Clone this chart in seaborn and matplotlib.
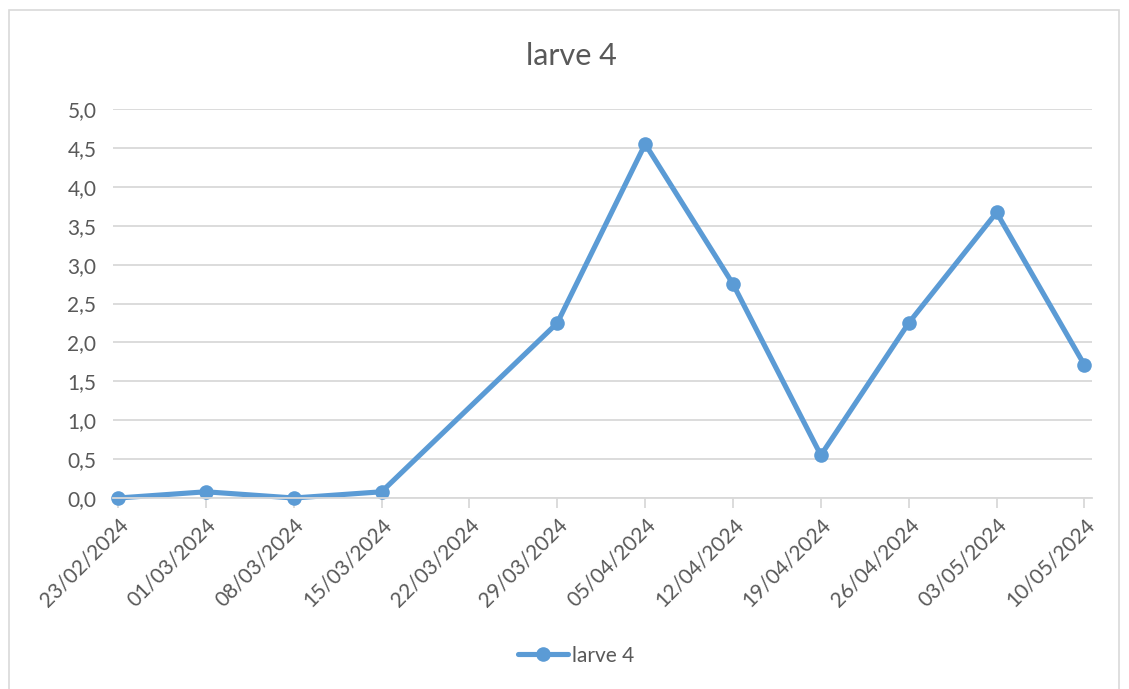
import pandas as pd
import numpy as np
import matplotlib
matplotlib.use("Agg")
import matplotlib.pyplot as plt
from matplotlib.ticker import FuncFormatter, MultipleLocator
from matplotlib.patches import Rectangle
import seaborn as sns

# data
dates = ['23/02/2024', '01/03/2024', '08/03/2024', '15/03/2024', '22/03/2024', '29/03/2024',
         '05/04/2024', '12/04/2024', '19/04/2024', '26/04/2024', '03/05/2024', '10/05/2024']
larve4 = [0.0, 0.08, 0.0, 0.08, np.nan, 2.25, 4.55, 2.75, 0.55, 2.25, 3.67, 1.71]
series_name = 'larve 4'

df = pd.DataFrame({'date': pd.to_datetime(dates, format='%d/%m/%Y'), series_name: larve4})

sns.set_theme(style='white')
plt.rcParams['font.family'] = ['Lato', 'DejaVu Sans']
txt = '#595959'
grid = '#d9d9d9'
blue = '#5b9bd5'

fig = plt.figure(figsize=(11.29, 6.89), dpi=100)
ax = fig.add_axes([0.1001, 0.2772, 0.8671, 0.5646])

# light chart-area border
fig.patches.append(Rectangle((0.008, -0.01), 0.983, 0.995, transform=fig.transFigure,
                             fill=False, edgecolor=grid, linewidth=1.2))

sns.lineplot(data=df.dropna(), x='date', y=series_name, ax=ax, color=blue, linewidth=3.7,
             marker='o', markersize=10.5, markeredgewidth=0, clip_on=False, label=series_name)

ax.set_ylim(0, 5)
ax.yaxis.set_major_locator(MultipleLocator(0.5))
ax.yaxis.set_major_formatter(FuncFormatter(lambda v, p: f'{v:.1f}'.replace('.', ',')))
ax.grid(axis='y', color=grid, linewidth=1.3)
ax.set_axisbelow(True)

ax.set_xticks(df['date'])
ax.set_xticklabels(dates, rotation=45, ha='right', rotation_mode='anchor')
ax.set_xlim(df['date'].iloc[0] - pd.Timedelta(days=0.4), df['date'].iloc[-1] + pd.Timedelta(days=0.6))

for s in ['top', 'right', 'left']:
    ax.spines[s].set_visible(False)
ax.spines['bottom'].set_color(grid)
ax.spines['bottom'].set_linewidth(1.3)
ax.tick_params(axis='x', length=7, width=1.3, color=grid, labelsize=15, labelcolor=txt, pad=5, bottom=True)
ax.tick_params(axis='y', length=0, labelsize=15, labelcolor=txt, pad=12)
ax.set_xlabel('')
ax.set_ylabel('')

fig.text(0.506, 0.918, 'larve 4', ha='center', va='center', fontsize=22, color=txt)

leg = ax.legend(loc='center', bbox_to_anchor=(0.473, -0.405), frameon=False, fontsize=15,
                handlelength=2.4, handletextpad=0.2)
for t in leg.get_texts():
    t.set_color(txt)

fig.savefig('out.png', dpi=100)
